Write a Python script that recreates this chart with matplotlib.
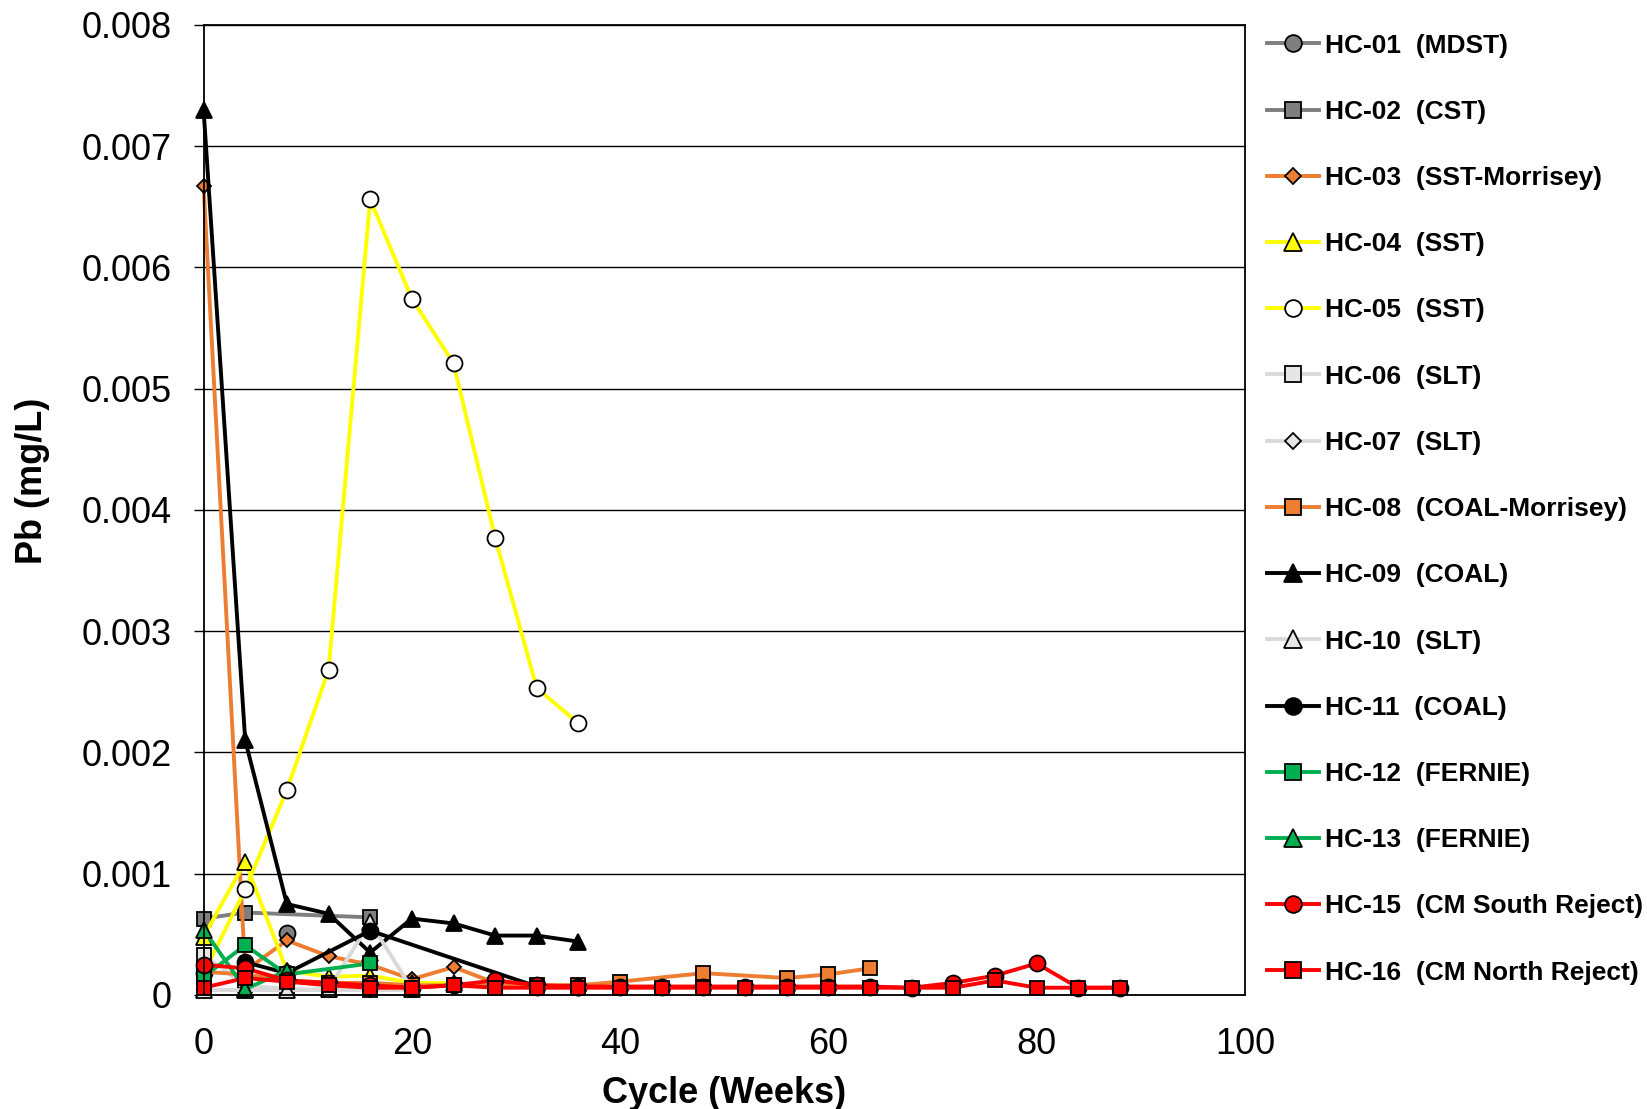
import matplotlib
matplotlib.use("Agg")
import matplotlib.pyplot as plt

plt.rcParams['font.family'] = ['Liberation Sans', 'DejaVu Sans']

# weeks / Pb values
wk_hc01 = [8]
pb_hc01 = [0.00051]
wk_hc02 = [0, 4, 16]
pb_hc02 = [0.00063, 0.00068, 0.00064]
wk_hc03 = [0, 4, 8, 12, 16, 20, 24, 28, 32, 36]
pb_hc03 = [0.00667, 0.0002, 0.00045, 0.00032, 0.00025, 0.00013, 0.00023, 0.0001, 0.00008, 0.00008]
wk_hc04 = [0, 4, 8, 12, 16, 20, 24]
pb_hc04 = [0.00048, 0.0011, 0.0002, 0.00015, 0.00016, 0.0001, 0.0001]
wk_hc05 = [0, 4, 8, 12, 16, 20, 24, 28, 32, 36]
pb_hc05 = [0.00018, 0.00087, 0.00169, 0.00268, 0.00656, 0.00574, 0.00521, 0.00377, 0.00253, 0.00224]
wk_hc06 = [0, 4, 8, 12, 16, 20]
pb_hc06 = [0.00033, 0.00008, 0.00005, 0.00004, 0.00004, 0.00004]
wk_hc07 = [0, 4, 8, 12, 16]
pb_hc07 = [0.00004, 0.00004, 0.00004, 0.00004, 0.00004]
wk_hc08 = [0, 4, 8, 12, 16, 20, 24, 28, 32, 36, 40, 48, 56, 60, 64]
pb_hc08 = [0.00019, 0.00017, 0.00012, 0.0001, 0.0001, 0.00008, 0.00008, 0.00008,
           0.00008, 0.00008, 0.00011, 0.00018, 0.00014, 0.00017, 0.00022]
wk_hc09 = [0, 4, 8, 12, 16, 20, 24, 28, 32, 36]
pb_hc09 = [0.0073, 0.0021, 0.00075, 0.00067, 0.00035, 0.00063, 0.00059, 0.00049, 0.00049, 0.00044]
wk_hc10 = [0, 4, 8, 12, 16, 20]
pb_hc10 = [0.00004, 0.00004, 0.00004, 0.00005, 0.0006, 0.00005]
wk_hc11 = [4, 8, 16, 32, 36]
pb_hc11 = [0.00027, 0.00018, 0.00053, 0.00007, 0.00007]
wk_hc12 = [0, 4, 8, 16]
pb_hc12 = [0.00015, 0.00041, 0.00017, 0.00026]
wk_hc13 = [0, 4, 8]
pb_hc13 = [0.00054, 0.00005, 0.0002]
wk_hc15 = [0, 4, 8, 12, 16, 20, 24, 28, 32, 36, 40, 44, 48, 52, 56, 60, 64, 68, 72, 76, 80, 84, 88]
pb_hc15 = [0.00025, 0.00022, 0.00012, 0.0001, 0.00008, 0.00006, 0.00008, 0.00012, 0.00008,
           0.00007, 0.00007, 0.00007, 0.00007, 0.00007, 0.00007, 0.00007, 0.00007, 0.00006,
           0.0001, 0.00016, 0.00026, 0.00006, 0.00006]
wk_hc16 = [0, 4, 8, 12, 16, 20, 24, 28, 32, 36, 40, 44, 48, 52, 56, 60, 64, 68, 72, 76, 80, 84, 88]
pb_hc16 = [0.00006, 0.00014, 0.00011, 0.00008, 0.00006, 0.00006, 0.00008, 0.00006, 0.00006,
           0.00006, 0.00006, 0.00006, 0.00006, 0.00006, 0.00006, 0.00006, 0.00006, 0.00006,
           0.00006, 0.00012, 0.00006, 0.00006, 0.00006]

labels = ['HC-01  (MDST)', 'HC-02  (CST)', 'HC-03  (SST-Morrisey)', 'HC-04  (SST)',
          'HC-05  (SST)', 'HC-06  (SLT)', 'HC-07  (SLT)', 'HC-08  (COAL-Morrisey)',
          'HC-09  (COAL)', 'HC-10  (SLT)', 'HC-11  (COAL)', 'HC-12  (FERNIE)',
          'HC-13  (FERNIE)', 'HC-15  (CM South Reject)', 'HC-16  (CM North Reject)']

grey = '#7f7f7f'
orange = '#ed7d31'
yellow = '#ffff00'
light = '#d9d9d9'
green = '#00b050'
red = '#ff0000'

series = [
    (wk_hc01, pb_hc01, grey, 'o', grey, 11.5),
    (wk_hc02, pb_hc02, grey, 's', grey, 10.5),
    (wk_hc03, pb_hc03, orange, 'D', orange, 7.5),
    (wk_hc04, pb_hc04, yellow, '^', yellow, 12),
    (wk_hc05, pb_hc05, yellow, 'o', 'white', 11.5),
    (wk_hc06, pb_hc06, light, 's', '#e6e6e6', 10.5),
    (wk_hc07, pb_hc07, light, 'D', '#e6e6e6', 7.5),
    (wk_hc08, pb_hc08, orange, 's', orange, 10.5),
    (wk_hc09, pb_hc09, 'black', '^', 'black', 12),
    (wk_hc10, pb_hc10, light, '^', '#e6e6e6', 12),
    (wk_hc11, pb_hc11, 'black', 'o', 'black', 11.5),
    (wk_hc12, pb_hc12, green, 's', green, 10.5),
    (wk_hc13, pb_hc13, green, '^', green, 12),
    (wk_hc15, pb_hc15, red, 'o', red, 11.5),
    (wk_hc16, pb_hc16, red, 's', red, 10.5),
]

fig = plt.figure(figsize=(16.47, 11.09), dpi=100)
ax = fig.add_axes([0.1236, 0.1028, 0.6323, 0.8749])

for (x, y, lc, mk, fc, ms), lab in zip(series, labels):
    ax.plot(x, y, color=lc, lw=2.8, marker=mk, markersize=ms,
            markerfacecolor=fc, markeredgecolor='black', markeredgewidth=1.3,
            label=lab, clip_on=False)

ax.set_xlim(0, 100)
ax.set_ylim(0, 0.008)
ax.set_xticks([0, 20, 40, 60, 80, 100])
yt = [i * 0.001 for i in range(9)]
ax.set_yticks(yt)
ax.set_yticklabels([f"{v:g}" for v in yt])
ax.yaxis.grid(True, color='black', lw=1.0)
ax.set_axisbelow(True)
for s in ax.spines.values():
    s.set_color('black')
    s.set_linewidth(1.3)
ax.tick_params(axis='y', labelsize=26, length=7, width=1.0, pad=16)
ax.tick_params(axis='x', labelsize=26, length=0, pad=23)

ax.set_xlabel('Cycle (Weeks)', fontsize=26, fontweight='bold', labelpad=10)
ax.set_ylabel('Pb (mg/L)', fontsize=26, fontweight='bold')
ax.yaxis.set_label_coords(-0.147, 0.53)

ax.legend(loc='upper left', bbox_to_anchor=(0.769, 0.9697), bbox_transform=fig.transFigure,
          frameon=False, prop={'size': 19, 'weight': 'bold'}, markerscale=1.05,
          handlelength=2.0, handletextpad=0.2, labelspacing=1.6, borderaxespad=0,
          borderpad=0)

fig.savefig('out.png', dpi=100)
